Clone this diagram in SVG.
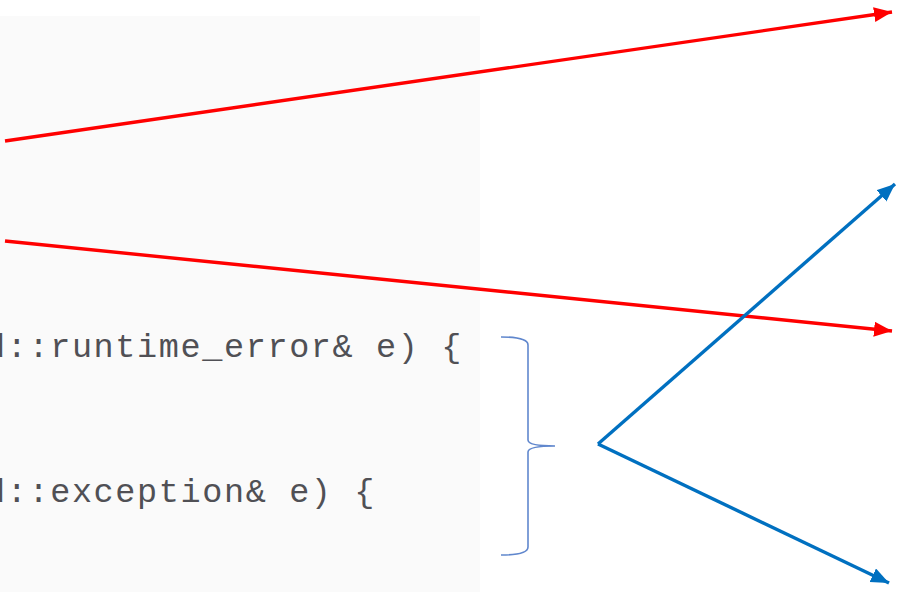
<svg xmlns="http://www.w3.org/2000/svg" width="898" height="592" viewBox="0 0 898 592">
  <style>
    .code { font-family: "Liberation Mono", "DejaVu Sans Mono", monospace; font-size: 33.5px; letter-spacing: 1.62px; fill: #505055; }
    .red { stroke: #ff0000; stroke-width: 3.4; fill: none; }
    .blue { stroke: #0070c0; stroke-width: 3.4; fill: none; }
    .brace { stroke: #4472c4; stroke-width: 1.6; fill: none; stroke-opacity: 0.85; }
  </style>
  <defs>
    <marker id="headRed" markerUnits="userSpaceOnUse" markerWidth="20" markerHeight="16" refX="18" refY="7.5" orient="auto">
      <path d="M0,0 L18,7.5 L0,15 z" fill="#ff0000"/>
    </marker>
    <marker id="headBlue" markerUnits="userSpaceOnUse" markerWidth="20" markerHeight="16" refX="18" refY="7.5" orient="auto">
      <path d="M0,0 L18,7.5 L0,15 z" fill="#0070c0"/>
    </marker>
  </defs>

  <rect width="898" height="592" fill="#ffffff"/>

  <!-- code listing panel -->
  <g id="code-panel">
    <rect x="0" y="16" width="480" height="576" fill="#fafafa"/>
    <text class="code" x="-15" y="357">d::runtime_error&amp; e) {</text>
    <text class="code" x="-15" y="502">d::exception&amp; e) {</text>
  </g>

  <!-- brace grouping both catch clauses -->
  <g id="catch-brace">
    <path class="brace" d="M501,337 Q528,337 528,345 L528,440 Q528,446 555,446 Q528,446 528,452 L528,547 Q528,555 501,555"/>
  </g>

  <g id="connectors">
    <line class="red" x1="5" y1="141" x2="892" y2="12" marker-end="url(#headRed)"/>
    <line class="red" x1="5" y1="241" x2="892" y2="331" marker-end="url(#headRed)"/>
    <line class="blue" x1="598" y1="444" x2="895" y2="184" marker-end="url(#headBlue)"/>
    <line class="blue" x1="598" y1="444" x2="889" y2="583" marker-end="url(#headBlue)"/>
  </g>
</svg>
